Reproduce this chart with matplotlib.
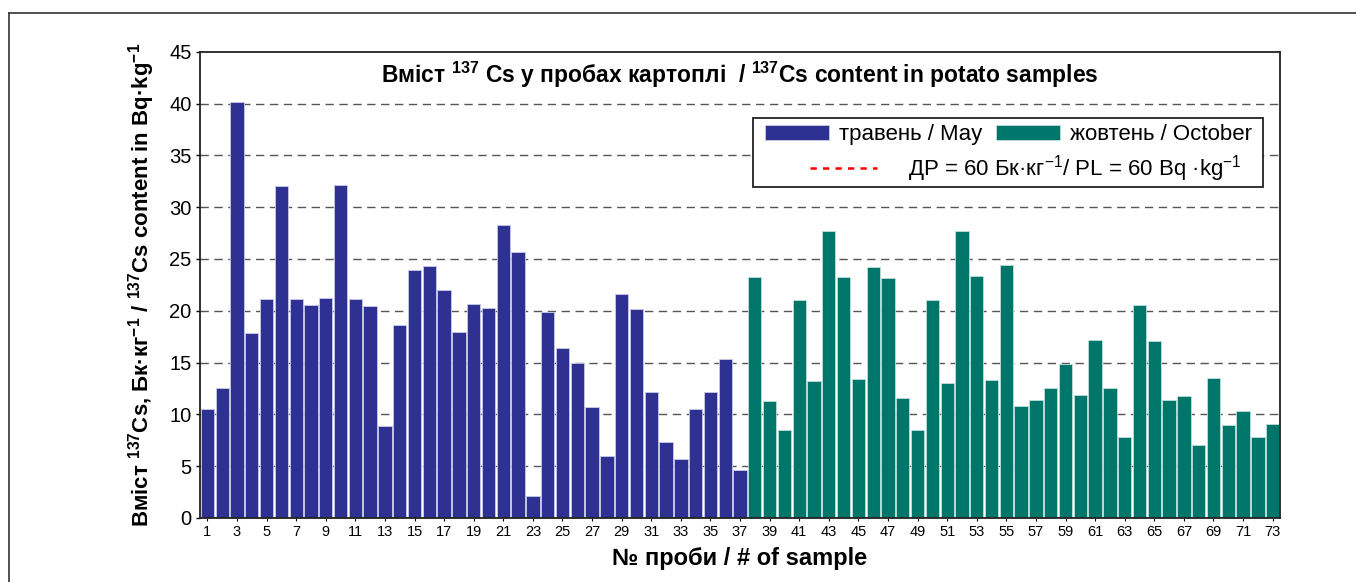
import numpy as np
import matplotlib
matplotlib.use('Agg')
import matplotlib.pyplot as plt
from matplotlib.lines import Line2D
from matplotlib.patches import Rectangle

plt.rcParams['font.family'] = ['Liberation Sans', 'DejaVu Sans']
plt.rcParams['mathtext.default'] = 'regular'

# 137Cs content, Bq/kg, samples 1-37 (May) and 38-73 (October)
may_values = [10.5, 12.5, 40.2, 17.9, 21.1, 32.0, 21.1, 20.6, 21.2, 32.1,
              21.1, 20.5, 8.9, 18.6, 23.9, 24.3, 22.0, 18.0, 20.7, 20.3,
              28.3, 25.7, 2.1, 19.9, 16.4, 15.0, 10.7, 6.0, 21.6, 20.2,
              12.2, 7.3, 5.7, 10.5, 12.2, 15.3, 4.6]
oct_values = [23.3, 11.3, 8.5, 21.0, 13.2, 27.7, 23.3, 13.4, 24.2, 23.2,
              11.6, 8.5, 21.0, 13.0, 27.7, 23.4, 13.3, 24.4, 10.8, 11.4,
              12.5, 14.9, 11.9, 17.2, 12.5, 7.8, 20.6, 17.1, 11.4, 11.75,
              7.05, 13.5, 9.0, 10.3, 7.8, 9.1]
may_samples = np.arange(1, len(may_values) + 1)
oct_samples = np.arange(len(may_values) + 1, len(may_values) + len(oct_values) + 1)
pl_level = 60  # permissible level, above the visible range

may_label = 'травень / May'
oct_label = 'жовтень / October'
pl_label = r'ДР = 60 Бк·кг$^{-1}$/ PL = 60 Bq ·kg$^{-1}$'

may_color = '#2E3192'
oct_color = '#00766A'

fig = plt.figure(figsize=(13.56, 5.82), dpi=100)
ax = fig.add_axes([0.1475, 0.110, 0.7965, 0.801])

# grid lines behind bars
for yv in range(5, 45, 5):
    ax.axhline(yv, color='#555555', lw=1.0, ls=(0, (6, 4)), zorder=0)

b1 = ax.bar(may_samples, may_values, width=0.9, color=may_color,
            edgecolor='#c9cbe6', linewidth=0.6, zorder=2)
b2 = ax.bar(oct_samples, oct_values, width=0.9, color=oct_color,
            edgecolor='#bfe0dc', linewidth=0.6, zorder=2)
pl_line, = ax.plot([0.5, 73.5], [pl_level, pl_level], color='red', ls=(0, (2.5, 2.5)), lw=1.8)

ax.set_xlim(0.5, 73.5)
ax.set_ylim(0, 45)
ax.set_yticks(range(0, 46, 5))
ax.set_xticks(range(1, 74, 2))
ax.tick_params(axis='y', labelsize=14.5, length=3, width=1, pad=3)
ax.tick_params(axis='x', labelsize=10.5, length=2, width=0.8, pad=3)
for s in ax.spines.values():
    s.set_linewidth(1.3)
    s.set_color('#222222')

ax.set_xlabel('№ проби / # of sample', fontsize=17, fontweight='bold', labelpad=6)
ax.set_ylabel(r'Вміст $^{137}$Cs, Бк·кг$^{-1}$ / $^{137}$Cs content in Bq·kg$^{-1}$',
              fontsize=16, fontweight='bold', labelpad=9)

ax.text(0.5, 0.95, r'Вміст $^{137}$ Cs у пробах картоплі  / $^{137}$Cs content in potato samples',
        transform=ax.transAxes, ha='center', va='center', fontsize=16.5, fontweight='bold')

# legend: white framed box with two rows
box = Rectangle((0.512, 0.710), 0.472, 0.148, transform=ax.transAxes,
                facecolor='white', edgecolor='#222222', lw=1.3, zorder=4)
ax.add_patch(box)
leg1 = ax.legend([b1, b2], [may_label, oct_label], ncol=2, frameon=False,
                 loc='center left', bbox_to_anchor=(0.523, 0.822), fontsize=16,
                 handlelength=2.9, handleheight=0.65, columnspacing=0.6,
                 handletextpad=0.45, borderaxespad=0, borderpad=0)
leg1.set_zorder(5)
ax.add_artist(leg1)
leg2 = ax.legend([pl_line], [pl_label], frameon=False, loc='center left',
                 bbox_to_anchor=(0.5648, 0.749), fontsize=16, handlelength=3.0,
                 handletextpad=1.4, borderaxespad=0, borderpad=0)
leg2.set_zorder(5)

# outer frame (top and left edges)
fig.add_artist(Line2D([0.0066, 1.0], [0.978, 0.978], transform=fig.transFigure,
                      color='#333333', lw=1.2))
fig.add_artist(Line2D([0.0066, 0.0066], [0.0, 0.978], transform=fig.transFigure,
                      color='#333333', lw=1.2))

fig.savefig('out.png', dpi=100)
